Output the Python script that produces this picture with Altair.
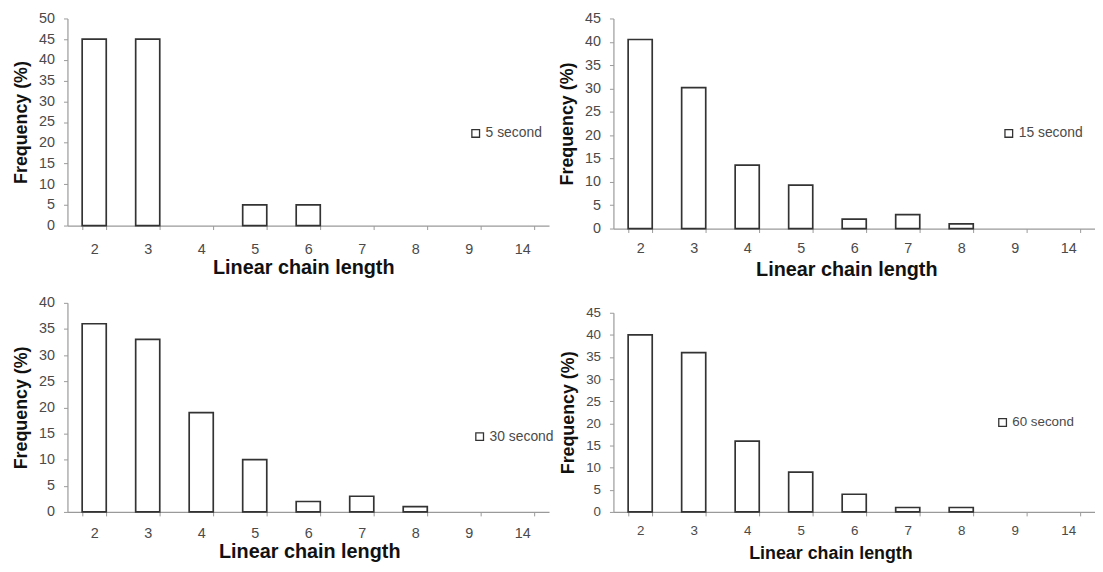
import altair as alt
import pandas as pd

categories = ["2", "3", "4", "5", "6", "7", "8", "9", "14"]
freq_5s = [45, 45, 0, 5, 5, 0, 0, 0, 0]
freq_15s = [40.5, 30.2, 13.6, 9.3, 2, 3, 1, 0, 0]
freq_30s = [36, 33, 19, 10, 2, 3, 1, 0, 0]
freq_60s = [40, 36, 16, 9, 4, 1, 1, 0, 0]
series_labels = ["5 second", "15 second", "30 second", "60 second"]
y_max = [50, 45, 40, 45]

FONT = "Liberation Sans"
BAR_STROKE = "#333333"
AXIS_GREY = "#9a9a9a"
LABEL_GREY = "#4a4a4a"


def panel(values, label, ymax, width, height, lx, ly,
          x_lp, x_tp, x_title_size, tick_label_size, title_x,
          y_lp, y_tp, legend_size):
    df = pd.DataFrame({"length": categories, "freq": values, "series": label})
    return (
        alt.Chart(df)
        .transform_filter("datum.freq > 0")
        .mark_bar(stroke=BAR_STROKE, strokeWidth=1.7)
        .encode(
            x=alt.X(
                "length:N",
                scale=alt.Scale(domain=categories, paddingInner=0.55, paddingOuter=0.275),
                axis=alt.Axis(
                    title="Linear chain length",
                    labelAngle=0,
                    tickBand="extent",
                    tickSize=4,
                    labelPadding=x_lp,
                    titlePadding=x_tp,
                    titleFontSize=x_title_size,
                    labelFontSize=tick_label_size,
                    titleX=title_x,
                ),
            ),
            y=alt.Y(
                "freq:Q",
                scale=alt.Scale(domain=[0, ymax], nice=False, zero=True),
                axis=alt.Axis(
                    title="Frequency (%)",
                    values=list(range(0, ymax + 1, 5)),
                    tickSize=4,
                    labelPadding=y_lp,
                    titlePadding=y_tp,
                    labelFontSize=tick_label_size,
                    grid=False,
                ),
            ),
            color=alt.Color(
                "series:N",
                scale=alt.Scale(domain=[label], range=["#ffffff"]),
                legend=alt.Legend(
                    title=None,
                    orient="none",
                    legendX=lx,
                    legendY=ly,
                    symbolType="square",
                    symbolSize=60,
                    symbolStrokeColor=BAR_STROKE,
                    symbolStrokeWidth=1.3,
                    labelFontSize=legend_size,
                    labelColor=LABEL_GREY,
                    labelFont=FONT,
                    labelOffset=3,
                    padding=0,
                ),
            ),
        )
        .properties(width=width, height=height)
    )


p1 = panel(freq_5s, series_labels[0], y_max[0], 486, 209, 405, 109,
           13, 2, 20, 14.5, 238, 9, 8, 14)
p3 = panel(freq_30s, series_labels[2], y_max[2], 486, 211, 409, 128,
           11, 1, 20, 14.5, 244, 9, 8, 14)
p2 = panel(freq_15s, series_labels[1], y_max[1], 486, 212, 392, 109,
           9, 5, 20, 14.5, 235, 9, 8, 14)
p4 = panel(freq_60s, series_labels[3], y_max[3], 486, 201, 386, 104,
           8, 8, 18, 13.5, 219, 9, 8, 13.5)

left = alt.vconcat(p1, p3, spacing=17).resolve_scale(color="independent")
right = alt.vconcat(p2, p4, spacing=26).resolve_scale(color="independent")

chart = (
    alt.hconcat(left, right, spacing=4)
    .resolve_scale(color="independent")
    .properties(padding={"left": 4, "top": 0, "right": 0, "bottom": 0})
    .configure_view(stroke=None)
    .configure_axis(
        domainColor=AXIS_GREY,
        tickColor=AXIS_GREY,
        domainWidth=1.2,
        labelColor=LABEL_GREY,
        labelFont=FONT,
        titleFont=FONT,
        titleColor="#111111",
        titleFontWeight="bold",
        titleFontSize=18,
    )
)

chart.save("out.html", embed_options={"renderer": "svg", "actions": False})
